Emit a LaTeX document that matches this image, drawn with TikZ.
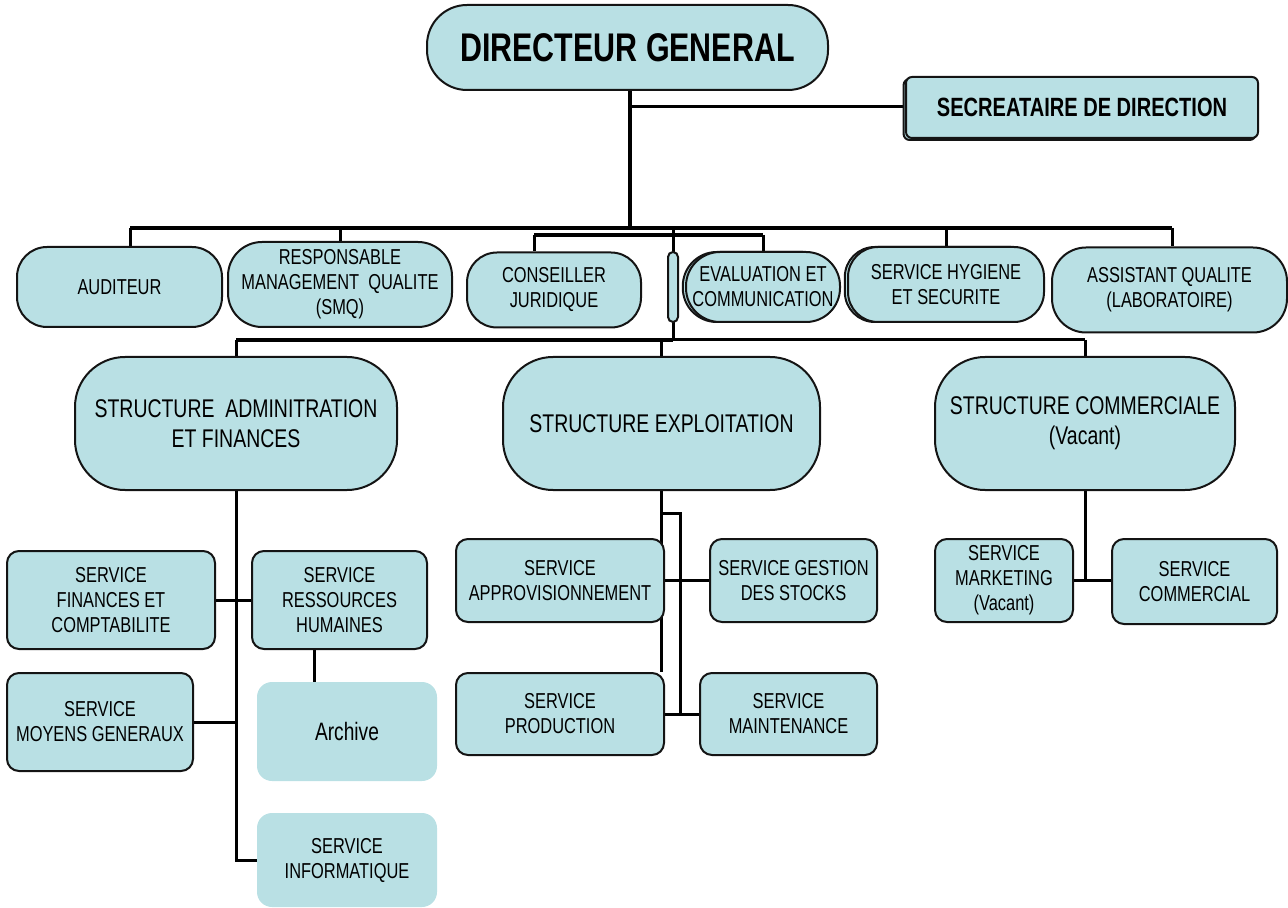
\documentclass[tikz,border=0pt]{standalone}
\usepackage{fontspec}
\setmainfont[FakeStretch=0.76]{Liberation Sans}
\usetikzlibrary{backgrounds,shadows}
\definecolor{boxfill}{RGB}{185,224,228}
\definecolor{ink}{RGB}{20,20,20}

\tikzset{
  box/.style={draw=ink, line width=1pt, fill=boxfill, inner sep=0pt, align=center, text=black},
  sz/.style 2 args={minimum width=#1*0.5pt, minimum height=#2*0.5pt},
  small/.style={font=\fontsize{10.8}{12.5}\selectfont},
  pill/.style={box, small, rounded corners=15pt},
  svc/.style={box, small, rounded corners=6pt},
  plainbox/.style={fill=boxfill, inner sep=0pt, align=center, rounded corners=7.5pt, small},
  struct/.style={box, rounded corners=25pt, font=\fontsize{12.8}{15}\selectfont},
  shad/.style={copy shadow={shadow xshift=-1.2pt, shadow yshift=-1pt}},
  shadl/.style={copy shadow={shadow xshift=-1.6pt, shadow yshift=0pt}},
  conn/.style={draw=black, line width=1.5pt},
  bus/.style={draw=black, line width=2pt},
}

\begin{document}
\begin{tikzpicture}[x=0.5pt,y=-0.5pt]
\useasboundingbox (0,0) rectangle (1288,908);

% --- direction ---
\node[box, sz={401}{85}, rounded corners=20pt, font=\fontsize{20}{24}\selectfont\bfseries] (dg) at (627.5,47.5) {DIRECTEUR GENERAL};
\node[box, sz={352}{61}, rounded corners=3pt, shad, font=\fontsize{13.2}{16}\selectfont\bfseries] (sec) at (1082,107.5) {SECREATAIRE DE DIRECTION};

% --- staff row ---
\node[pill, sz={205}{80}] (aud) at (119.5,287) {AUDITEUR};
\node[pill, sz={224}{85}, rounded corners=17pt] (rmq) at (340,284.5) {\raisebox{-1.5pt}{\parbox{100pt}{\centering RESPONSABLE\\MANAGEMENT\ \ QUALITE\\(SMQ)}}};
\node[pill, sz={174}{75}] (cons) at (554,290) {\raisebox{-1.5pt}{\parbox{80pt}{\centering CONSEILLER\\JURIDIQUE}}};
\node[box, sz={10}{70}, rounded corners=2.5pt] (mid) at (673,287) {};
\node[pill, sz={154}{70}, rounded corners=17pt, shadl] (eval) at (763,287) {EVALUATION ET\\COMMUNICATION};
\node[pill, sz={196}{75}, shadl] (hyg) at (946,284.5) {SERVICE HYGIENE\\ET SECURITE};
\node[pill, sz={235}{85}, rounded corners=17pt] (asq) at (1169.5,290) {\raisebox{-1.5pt}{\parbox{110pt}{\centering ASSISTANT QUALITE\\(LABORATOIRE)}}};

% --- structures ---
\node[struct, sz={322}{133}] (adm) at (236,423.5) {STRUCTURE\ \ ADMINITRATION\\ET FINANCES};
\node[struct, sz={317}{133}] (expl) at (661.5,423.5) {STRUCTURE EXPLOITATION};
\node[struct, sz={300}{133}] (comm) at (1085,423.5) {STRUCTURE COMMERCIALE\\(Vacant)};

% --- administration and finances ---
\node[svc, sz={208}{98}] (fin) at (111,600) {SERVICE\\FINANCES ET\\COMPTABILITE};
\node[svc, sz={175}{98}] (rh) at (339.5,600) {SERVICE\\RESSOURCES\\HUMAINES};
\node[svc, sz={186}{98}] (moy) at (100,722) {SERVICE\\MOYENS GENERAUX};
\node[plainbox, sz={180}{99}, font=\fontsize{12.6}{15}\selectfont] (arch) at (347,731.5) {Archive};
\node[plainbox, sz={180}{94}] (info) at (347,860) {SERVICE\\INFORMATIQUE};

% --- exploitation ---
\node[svc, sz={208}{83}] (appro) at (560,580.5) {SERVICE\\APPROVISIONNEMENT};
\node[svc, sz={167}{83}] (gest) at (793.5,580.5) {SERVICE GESTION\\DES STOCKS};
\node[svc, sz={208}{82}] (prod) at (560,714) {SERVICE\\PRODUCTION};
\node[svc, sz={177}{82}] (maint) at (788.5,714) {SERVICE\\MAINTENANCE};

% --- commercial ---
\node[svc, sz={138}{83}] (mkt) at (1004,580.5) {SERVICE\\MARKETING\\(Vacant)};
\node[svc, sz={165}{85}] (com) at (1194.5,581.5) {SERVICE\\COMMERCIAL};

% --- connectors, behind the boxes ---
\begin{scope}[on background layer]
  \coordinate (j1) at (630,228);
  \coordinate (jsec) at (630,107);
  \draw[bus] (dg.south -| j1) -- (j1);
  \draw[conn] (jsec) -- (sec.west |- jsec);

  \coordinate (b1l) at (130,228);
  \coordinate (b1r) at (1172,228);
  \draw[bus] (b1l) -- (b1r);
  \draw[conn] (b1l) -- (b1l |- aud.north);
  \draw[conn] (rmq.north |- b1l) -- (rmq.north);
  \draw[conn] (hyg.north |- b1l) -- (hyg.north);
  \draw[conn] (b1r) -- (b1r |- asq.north);

  \coordinate (b2l) at (534,235);
  \draw[bus] (b2l) -- (eval.north |- b2l);
  \draw[conn] (b2l) -- (b2l |- cons.north);
  \draw[conn] (eval.north |- b2l) -- (eval.north);

  \coordinate (jm) at (673,228);
  \coordinate (b3) at (673,340);
  \draw[conn] (jm) -- (b3);
  \draw[bus] (adm.north |- b3) -- (b3);
  \draw[conn] (b3) -- (comm.north |- b3);
  \draw[conn] (adm.north |- b3) -- (adm.north);
  \draw[conn] (expl.north |- b3) -- (expl.north);
  \draw[conn] (comm.north |- b3) -- (comm.north);

  % administration and finances
  \draw[conn] (adm.south) |- (info.west);
  \draw[conn] (fin.east) -- (rh.west);
  \draw[conn] (moy.east) -- (moy.east -| adm.south);
  \draw[conn] ([xshift=-12.75pt]rh.south) -- ([xshift=-12.75pt]rh.south |- arch.north);

  % exploitation
  \coordinate (eb) at (680,513);
  \draw[conn] (expl.south) -- (expl.south |- prod.north);
  \draw[conn] (expl.south |- eb) -- (eb) -- (eb |- maint.west);
  \draw[conn] (appro.east) -- (gest.west);
  \draw[conn] (prod.east) -- (maint.west);

  % commercial
  \draw[conn] (comm.south) -- (comm.south |- mkt.east);
  \draw[conn] (mkt.east) -- (mkt.east -| com.west);
\end{scope}
\end{tikzpicture}
\end{document}
